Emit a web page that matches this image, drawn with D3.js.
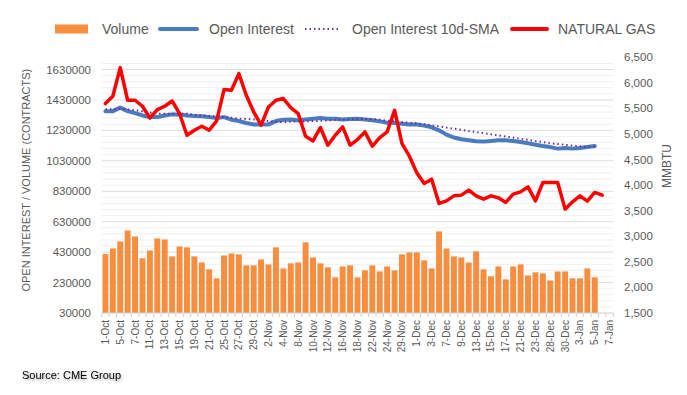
<!DOCTYPE html>
<html>
<head>
<meta charset="utf-8">
<script src="https://cdn.jsdelivr.net/npm/d3@7"></script>
<style>
  body { margin: 0; background: #fff; }
  #grafik text { font-family: "Liberation Sans", Arial, sans-serif; fill: #595959; }
</style>
</head>
<body>
<div id="grafik"></div>
<script>
// trading days on the category axis (only every other one gets a label)
const dates = ["1-Oct","4-Oct","5-Oct","6-Oct","7-Oct","8-Oct","11-Oct","12-Oct","13-Oct","14-Oct",
  "15-Oct","18-Oct","19-Oct","20-Oct","21-Oct","22-Oct","25-Oct","26-Oct","27-Oct","28-Oct",
  "29-Oct","1-Nov","2-Nov","3-Nov","4-Nov","5-Nov","8-Nov","9-Nov","10-Nov","11-Nov",
  "12-Nov","15-Nov","16-Nov","17-Nov","18-Nov","19-Nov","22-Nov","23-Nov","24-Nov","26-Nov",
  "29-Nov","30-Nov","1-Dec","2-Dec","3-Dec","6-Dec","7-Dec","8-Dec","9-Dec","10-Dec",
  "13-Dec","14-Dec","15-Dec","16-Dec","17-Dec","20-Dec","21-Dec","22-Dec","23-Dec","27-Dec",
  "28-Dec","29-Dec","30-Dec","31-Dec","3-Jan","4-Jan","5-Jan","6-Jan","7-Jan"];

// contracts, thousands
const volume = [417,454,500,572,533,389,441,520,513,402,
  467,461,402,362,317,258,408,421,415,343,
  343,382,349,461,323,356,362,494,395,356,
  330,264,336,343,264,310,343,303,336,310,
  415,428,428,376,323,566,454,402,395,362,
  435,317,271,336,251,336,349,277,297,290,
  244,303,303,258,258,323,264];

const openInterest = [1356,1356,1379,1356,1343,1328,1317,1317,1328,1335,
  1335,1328,1324,1322,1317,1311,1317,1300,1291,1278,
  1269,1269,1269,1291,1300,1302,1296,1302,1307,1311,
  1307,1307,1302,1304,1307,1302,1296,1289,1280,1278,
  1274,1269,1269,1261,1250,1230,1202,1183,1172,1165,
  1158,1156,1160,1165,1165,1160,1153,1145,1136,1127,
  1120,1110,1114,1110,1114,1120,1127];

const oiSma = [1368,1368,1372,1368,1362,1355,1347,1340,1339,1339,
  1339,1339,1333,1328,1324,1320,1317,1313,1307,1305,
  1302,1298,1291,1287,1284,1287,1289,1289,1291,1293,
  1296,1298,1300,1302,1305,1305,1305,1300,1293,1289,
  1284,1280,1276,1270,1263,1256,1248,1241,1234,1226,
  1219,1212,1204,1197,1190,1182,1175,1168,1160,1153,
  1146,1140,1135,1130,1125,1121,1125];

// MMBTU, right axis
const natGas = [5595,5738,6299,5660,5660,5543,5314,5478,5543,5646,
  5400,4976,5074,5152,5074,5256,5869,5855,6181,5758,
  5431,5172,5529,5660,5693,5517,5400,4957,4865,5127,
  4781,4976,5138,4781,4892,5041,4762,4931,5041,5465,
  4814,4566,4240,4033,4117,3642,3693,3791,3805,3902,
  3791,3726,3791,3752,3662,3824,3869,3967,3693,4050,
  4050,4050,3531,3674,3791,3687,3857,3805];

const leftTicks = d3.range(30000, 1630001, 200000);
const rightTicks = d3.range(1500, 6501, 500);

const W = 687, H = 395;
const plot = {left: 101.7, right: 613.3, top: 57.3, bottom: 313};

const svg = d3.select("#grafik").append("svg")
  .attr("width", W).attr("height", H);

const x = d3.scaleBand().domain(dates).range([plot.left, plot.right]);
const cx = d => x(d) + x.step() / 2;
const yL = d3.scaleLinear().domain([30000, 1710000]).range([plot.bottom, plot.top]);
const yR = d3.scaleLinear().domain([1500, 6500]).range([plot.bottom, plot.top]);

// gridlines: faint minor ones, then the major ones from the left axis
svg.append("g").selectAll("line")
  .data(d3.range(70000, 1700000, 40000).filter(v => (v - 30000) % 200000 !== 0))
  .join("line")
  .attr("x1", plot.left).attr("x2", plot.right)
  .attr("y1", d => yL(d)).attr("y2", d => yL(d))
  .attr("stroke", "#f0f0f0");

svg.append("g").selectAll("line")
  .data(leftTicks.slice(1))
  .join("line")
  .attr("x1", plot.left).attr("x2", plot.right)
  .attr("y1", d => yL(d)).attr("y2", d => yL(d))
  .attr("stroke", "#dcdcdc");

// volume bars
const vol = volume.map((v, i) => ({date: dates[i], v: v * 1000}));
svg.append("g").selectAll("rect")
  .data(vol)
  .join("rect")
  .attr("x", d => x(d.date) + x.step() * 0.1)
  .attr("width", x.step() * 0.8)
  .attr("y", d => yL(d.v))
  .attr("height", d => yL(30000) - yL(d.v))
  .attr("fill", "#f68d3f");

// x axis
svg.append("line")
  .attr("x1", plot.left).attr("x2", plot.right)
  .attr("y1", plot.bottom).attr("y2", plot.bottom)
  .attr("stroke", "#d0d0d0");
svg.append("g").selectAll("line")
  .data(d3.range(dates.length + 1))
  .join("line")
  .attr("x1", i => plot.left + i * x.step()).attr("x2", i => plot.left + i * x.step())
  .attr("y1", plot.bottom).attr("y2", plot.bottom + 4)
  .attr("stroke", "#d0d0d0");

svg.append("g").selectAll("text")
  .data(dates.filter((d, i) => i % 2 === 0))
  .join("text")
  .attr("transform", d => `translate(${cx(d)},${plot.bottom + 7}) rotate(-90)`)
  .attr("text-anchor", "end")
  .attr("dy", "0.35em")
  .style("font-size", "10px")
  .text(d => d);

// lines
const oiLine = d3.line().x((d, i) => cx(dates[i])).y(d => yL(d * 1000));
const gasLine = d3.line().x((d, i) => cx(dates[i])).y(d => yR(d));

svg.append("path")
  .attr("d", oiLine(openInterest))
  .attr("fill", "none").attr("stroke", "#4a7bbf")
  .attr("stroke-width", 4).attr("stroke-linejoin", "round").attr("stroke-linecap", "round");

svg.append("path")
  .attr("d", oiLine(oiSma))
  .attr("fill", "none").attr("stroke", "#7030a0")
  .attr("stroke-width", 2).attr("stroke-dasharray", "1.5,3");

svg.append("path")
  .attr("d", gasLine(natGas))
  .attr("fill", "none").attr("stroke", "#ff0000")
  .attr("stroke-width", 3.5).attr("stroke-linejoin", "round").attr("stroke-linecap", "round");

// left axis
svg.append("g").selectAll("text")
  .data(leftTicks)
  .join("text")
  .attr("x", 91).attr("y", d => yL(d))
  .attr("dy", "0.35em").attr("text-anchor", "end")
  .style("font-size", "11.5px")
  .text(d => d);

svg.append("text")
  .attr("transform", `translate(26,${(plot.top + plot.bottom) / 2 - 5}) rotate(-90)`)
  .attr("text-anchor", "middle").attr("dy", "0.35em")
  .style("font-size", "11px")
  .text("OPEN INTEREST / VOLUME (CONTRACTS)");

// right axis
svg.append("g").selectAll("text")
  .data(rightTicks)
  .join("text")
  .attr("x", 624).attr("y", d => yR(d))
  .attr("dy", "0.35em")
  .style("font-size", "11.5px")
  .text(d => d3.format(",")(d));

svg.append("text")
  .attr("transform", "translate(667,166) rotate(-90)")
  .attr("text-anchor", "middle").attr("dy", "0.35em")
  .style("font-size", "12px")
  .text("MMBTU");

// legend
const ly = 29;
const legend = svg.append("g");
legend.append("rect").attr("x", 55).attr("y", ly - 4.5).attr("width", 33).attr("height", 9).attr("fill", "#f68d3f");
legend.append("line").attr("x1", 160).attr("x2", 197).attr("y1", ly).attr("y2", ly)
  .attr("stroke", "#4a7bbf").attr("stroke-width", 4).attr("stroke-linecap", "round");
legend.append("line").attr("x1", 305).attr("x2", 341).attr("y1", ly).attr("y2", ly)
  .attr("stroke", "#7030a0").attr("stroke-width", 2).attr("stroke-dasharray", "1.5,3");
legend.append("line").attr("x1", 512).attr("x2", 547).attr("y1", ly).attr("y2", ly)
  .attr("stroke", "#ff0000").attr("stroke-width", 4).attr("stroke-linecap", "round");

const legendItems = [
  {x: 102, t: "Volume"},
  {x: 209, t: "Open Interest"},
  {x: 352, t: "Open Interest 10d-SMA"},
  {x: 558, t: "NATURAL GAS"}
];
legend.selectAll("text.lg")
  .data(legendItems)
  .join("text")
  .attr("class", "lg")
  .attr("x", d => d.x).attr("y", ly)
  .attr("dy", "0.35em")
  .style("font-size", "14px")
  .text(d => d.t);

// source note with soft shadow
const defs = svg.append("defs");
defs.append("filter").attr("id", "shadow")
  .attr("x", "-10%").attr("y", "-50%").attr("width", "130%").attr("height", "200%")
  .append("feDropShadow")
  .attr("dx", 1).attr("dy", 1.5).attr("stdDeviation", 1)
  .attr("flood-color", "#000").attr("flood-opacity", 0.35);

svg.append("text")
  .attr("x", 22).attr("y", 375)
  .attr("dy", "0.35em")
  .attr("filter", "url(#shadow)")
  .style("font-size", "11px")
  .style("fill", "#000")
  .text("Source: CME Group");
</script>
</body>
</html>
